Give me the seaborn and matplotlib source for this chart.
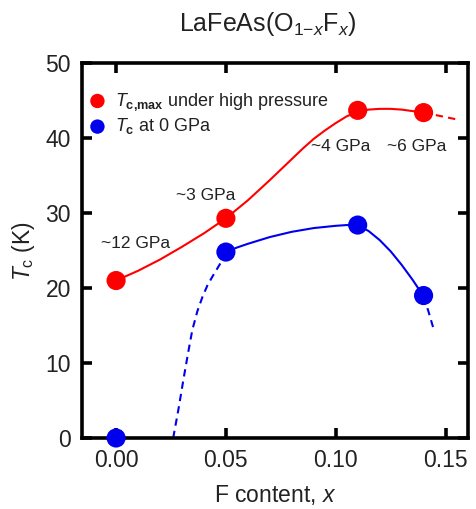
import matplotlib
matplotlib.use("Agg")
import matplotlib.pyplot as plt
import seaborn as sns

# ---- data ----
x_points = [0.00, 0.05, 0.11, 0.14]
tc_max_high_p = [21.0, 29.3, 43.7, 43.4]
tc_zero_p = [0.0, 24.8, 28.4, 19.0]
pressure_labels = ["~12 GPa", "~3 GPa", "~4 GPa", "~6 GPa"]

# guide-to-the-eye curves
red_curve_x = [0.00, 0.01, 0.02, 0.03, 0.04, 0.05, 0.06, 0.07, 0.075, 0.08, 0.085, 0.09, 0.095,
               0.10, 0.105, 0.11, 0.115, 0.12, 0.125, 0.13, 0.135, 0.14]
red_curve_y = [21.0, 22.3, 23.8, 25.5, 27.3, 29.3, 31.7, 34.4, 35.8, 37.2, 38.6, 39.9, 41.0,
               42.0, 42.9, 43.5, 43.8, 43.9, 43.9, 43.8, 43.6, 43.4]
red_dash_x = [0.14, 0.145, 0.15, 0.155]
red_dash_y = [43.4, 43.1, 42.8, 42.5]

blue_curve_x = [0.05, 0.055, 0.06, 0.07, 0.08, 0.09, 0.10, 0.105, 0.11, 0.115, 0.12, 0.125,
                0.13, 0.135, 0.14]
blue_curve_y = [24.8, 25.4, 25.9, 26.8, 27.5, 28.0, 28.3, 28.4, 28.4, 27.6, 26.4, 24.9,
                23.1, 21.1, 18.9]
blue_dash_left_x = [0.026, 0.0285, 0.0306, 0.0327, 0.0347, 0.037, 0.0393, 0.0415, 0.0438,
                    0.0475, 0.05]
blue_dash_left_y = [0.0, 4.0, 7.7, 11.2, 14.4, 16.9, 18.8, 20.3, 21.5, 23.3, 24.8]
blue_dash_right_x = [0.14, 0.1422, 0.1443]
blue_dash_right_y = [18.9, 16.9, 14.8]

# ---- style ----
sns.set_theme(style="ticks")
plt.rcParams["font.family"] = ["Liberation Sans", "DejaVu Sans"]
plt.rcParams["mathtext.fontset"] = "custom"
plt.rcParams["mathtext.rm"] = "Liberation Sans"
plt.rcParams["mathtext.it"] = "Liberation Sans:italic"
plt.rcParams["mathtext.bf"] = "Liberation Sans:bold"

RED = "#ff0000"
BLUE = "#0000ee"
TXT = "#222222"

fig = plt.figure(figsize=(4.77, 5.09), dpi=100)
ax = fig.add_axes([0.172, 0.1395, 0.809, 0.7365])

lw = 1.5
dash = (0, (3.5, 2.5))
sns.lineplot(x=red_curve_x, y=red_curve_y, ax=ax, color=RED, lw=lw, sort=False, legend=False)
sns.lineplot(x=red_dash_x, y=red_dash_y, ax=ax, color=RED, lw=lw, sort=False, legend=False,
             linestyle=dash)
sns.lineplot(x=blue_curve_x, y=blue_curve_y, ax=ax, color=BLUE, lw=lw, sort=False, legend=False)
sns.lineplot(x=blue_dash_left_x, y=blue_dash_left_y, ax=ax, color=BLUE, lw=lw, sort=False,
             legend=False, linestyle=dash)
sns.lineplot(x=blue_dash_right_x, y=blue_dash_right_y, ax=ax, color=BLUE, lw=lw, sort=False,
             legend=False, linestyle=dash)

sns.scatterplot(x=x_points, y=tc_max_high_p, ax=ax, color=RED, s=190, edgecolor="none",
                zorder=5, clip_on=False, label=r"$T_{\mathbf{c{,}max}}$ under high pressure")
sns.scatterplot(x=x_points, y=tc_zero_p, ax=ax, color=BLUE, s=190, edgecolor="none",
                zorder=5, clip_on=False, label=r"$T_{\mathbf{c}}$ at 0 GPa")

# pressure annotations
ann_pos = [(0.0087, 26.0), (0.0406, 32.4), (0.1023, 38.9), (0.137, 38.9)]
for txt, (xa, ya) in zip(pressure_labels, ann_pos):
    ax.text(xa, ya, txt, ha="center", va="center", fontsize=12.5, color=TXT)

ax.set_xlim(-0.0155, 0.1602)
ax.set_ylim(0, 50)
ax.set_xticks([0.00, 0.05, 0.10, 0.15])
ax.set_xticklabels(["0.00", "0.05", "0.10", "0.15"])
ax.set_yticks([0, 10, 20, 30, 40, 50])

for sp in ax.spines.values():
    sp.set_linewidth(2.6)
    sp.set_visible(True)
    sp.set_color("black")
ax.tick_params(direction="in", top=True, right=True, labeltop=False, labelright=False,
               length=7, width=2.6, labelsize=16.5, pad=8, colors="black", labelcolor=TXT)

ax.set_xlabel("F content, $\\mathit{x}$", fontsize=16.5, color=TXT, labelpad=8)
ax.set_ylabel(r"$T_{\mathrm{c}}$ (K)", fontsize=16.5, color=TXT, labelpad=6)

fig.text(0.562, 0.953, r"LaFeAs(O$_{1\mathrm{-}\mathit{x}}$F$_{\mathit{x}}$)", ha="center",
         va="center", fontsize=18, color=TXT)

leg = ax.legend(loc="upper left", bbox_to_anchor=(-0.035, 0.955), frameon=False, fontsize=13,
                handletextpad=0.0, markerscale=0.75, labelspacing=0.2, borderaxespad=0.2)
for t in leg.get_texts():
    t.set_color(TXT)

fig.savefig("out.png", dpi=100)
